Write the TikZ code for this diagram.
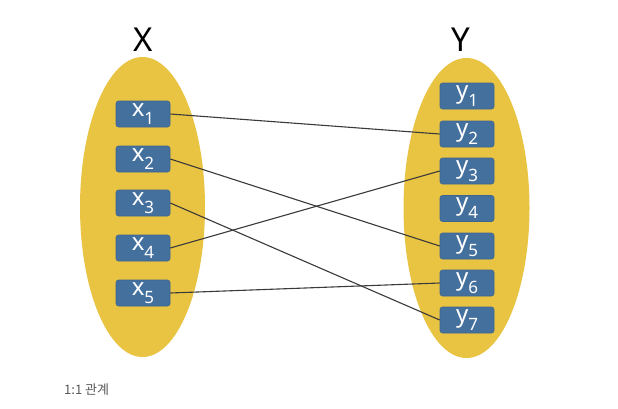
\documentclass[tikz,border=0pt]{standalone}
\usepackage{fontspec}
\setmainfont{Noto Sans}
\newfontfamily\krfont{Noto Sans CJK KR}
\definecolor{setyellow}{HTML}{E9C443}
\definecolor{boxblue}{HTML}{44709E}
\definecolor{boxedge}{HTML}{3D6690}
\definecolor{linkgray}{HTML}{3A3A3A}
\tikzset{
  setellipse/.style={fill=setyellow, draw=none},
  elembox/.style={fill=boxblue, draw=boxedge, line width=0.6pt, rounded corners=2.5pt,
    minimum width=54pt, minimum height=26pt, inner sep=0pt, text=white,
    font=\fontsize{24}{24}\selectfont},
  setlabel/.style={font=\fontsize{33}{33}\selectfont, text=black},
  link/.style={draw=linkgray, line width=1.1pt},
}
\begin{document}
\begin{tikzpicture}[x=1pt,y=-1pt]
\useasboundingbox (0,0) rectangle (618,408);
\fill[white] (0,0) rectangle (618,408);
\path[setellipse] (142.5,207) ellipse [x radius=62.5, y radius=150];
\path[setellipse] (466.5,208) ellipse [x radius=63, y radius=150];
\node[setlabel] (X) at (143,40) {X};
\node[setlabel] (Y) at (461,40) {Y};
\foreach \i/\yy in {1/114,2/159,3/203,4/248,5/293}{
  \node[elembox] (x\i) at (143,\yy) {\raisebox{2pt}{x}\raisebox{-6pt}{\fontsize{17}{17}\selectfont\i}};
}
\foreach \i/\yy in {1/96,2/134,3/171,4/208.5,5/246,6/283,7/320}{
  \node[elembox] (y\i) at (467,\yy) {\raisebox{3pt}{y}\raisebox{-5pt}{\fontsize{17}{17}\selectfont\i}};
}
\draw[link] (x1.east) -- (y2.west);
\draw[link] (x2.east) -- (y5.west);
\draw[link] (x3.east) -- (y7.west);
\draw[link] (x4.east) -- (y3.west);
\draw[link] (x5.east) -- (y6.west);
\node[anchor=west, font=\krfont\fontsize{13}{13}\selectfont, text=black!65, inner sep=0pt] (cap) at (64,390) {1:1 관계};
\end{tikzpicture}
\end{document}
